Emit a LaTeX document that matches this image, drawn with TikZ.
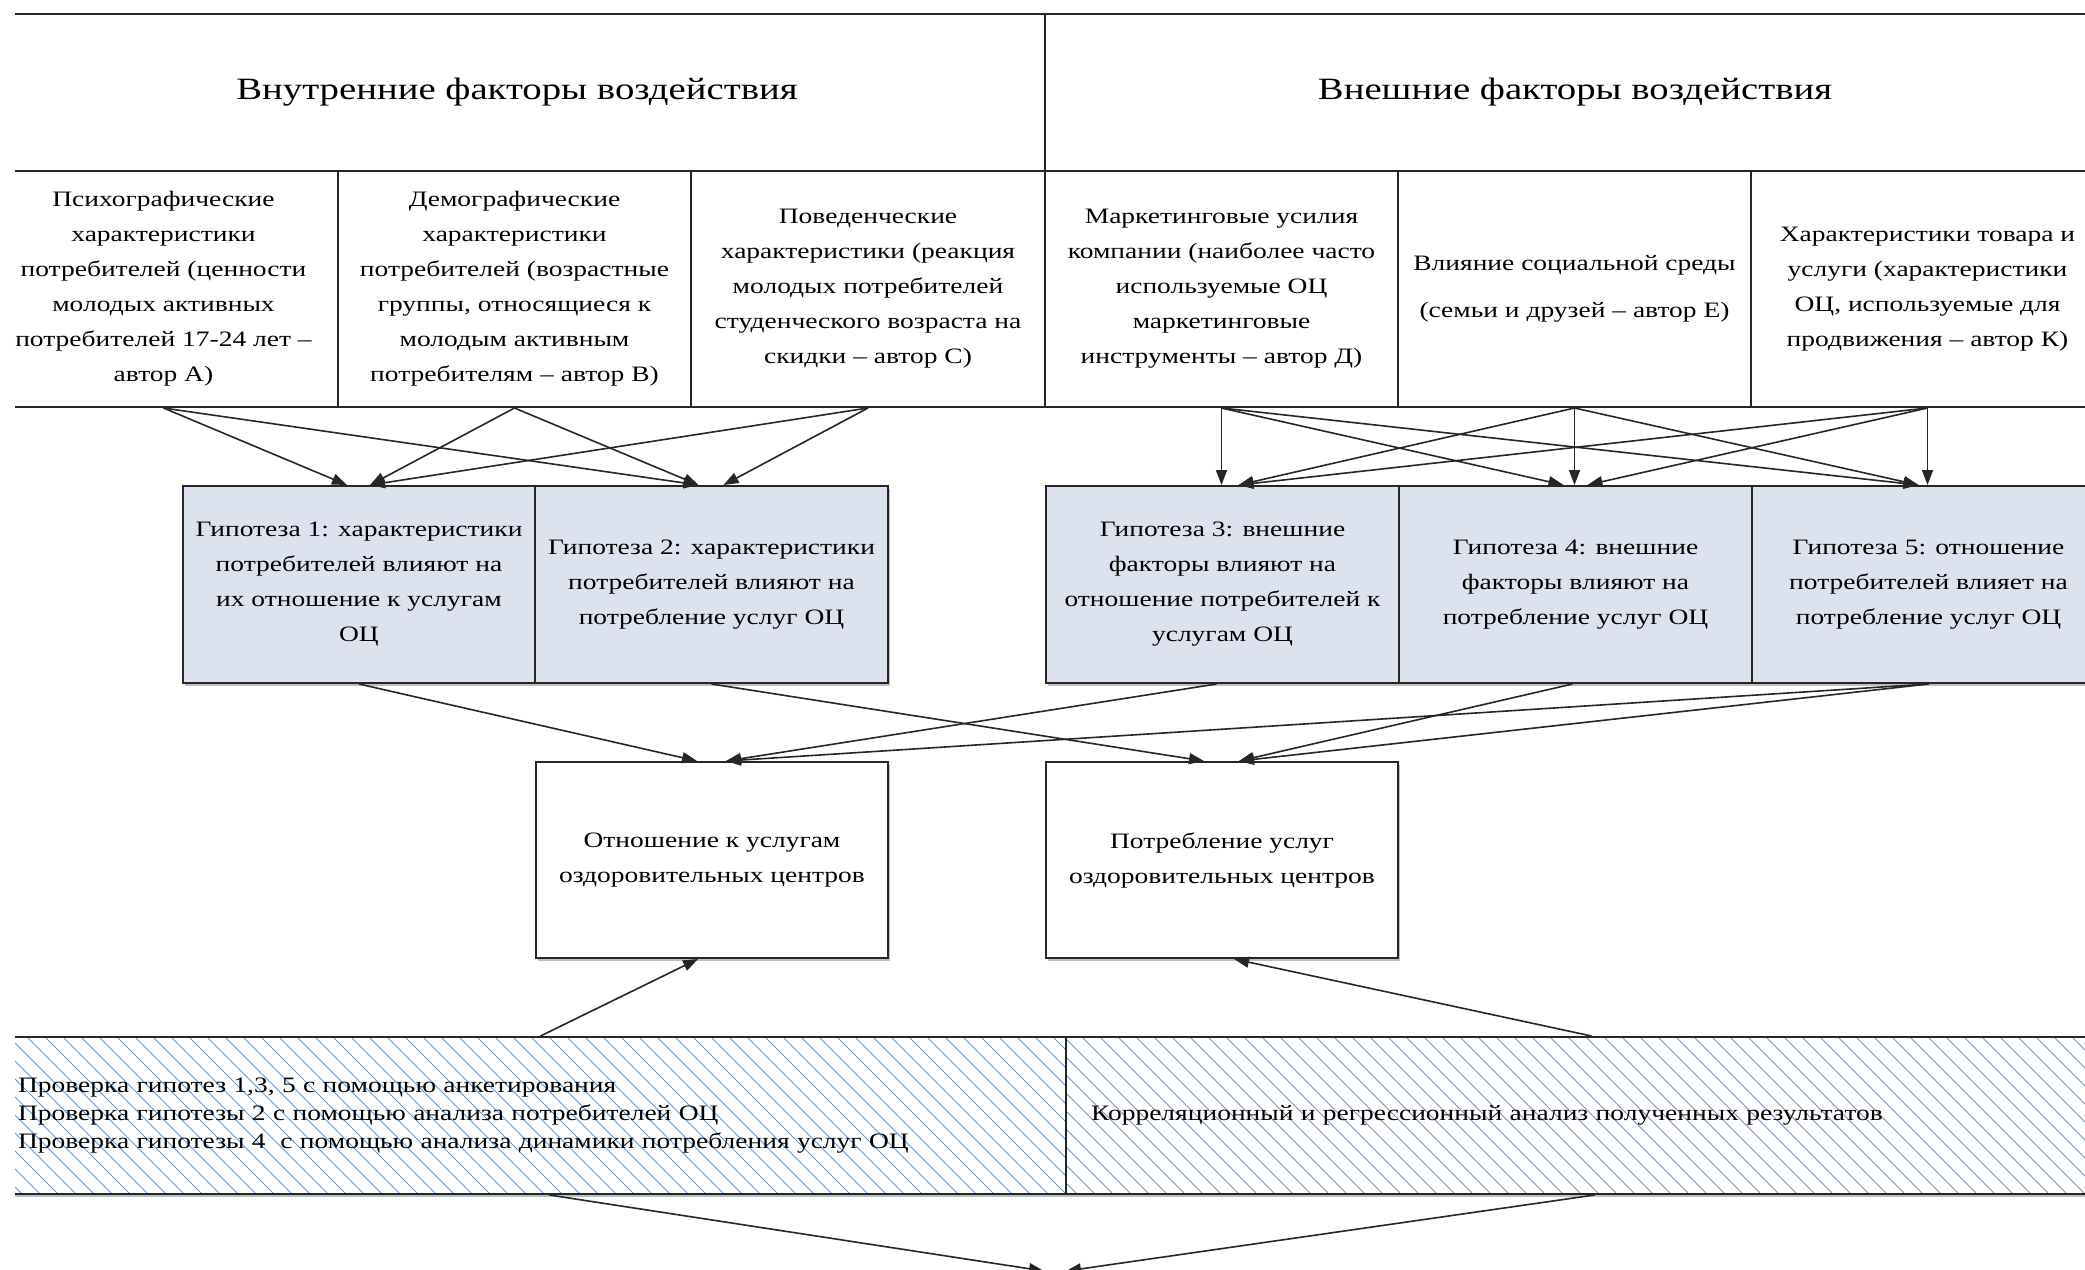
\documentclass[tikz,border=0pt]{standalone}
\usepackage{fontspec}
\setmainfont{Liberation Serif}[FakeStretch=1.25]
\usetikzlibrary{arrows.meta,calc,shadows}
\definecolor{linec}{HTML}{262626}
\definecolor{hypfill}{HTML}{DCE3EE}
\definecolor{hatchc}{HTML}{6E96CD}
\newcommand\bodyf{\fontsize{22pt}{35pt}\selectfont}
\newcommand\headf{\fontsize{31pt}{36pt}\selectfont}
\newcommand\bandf{\fontsize{22pt}{28pt}\selectfont}
\begin{document}
\begin{tikzpicture}[x=1pt,y=-1pt,
  cell/.style={draw=linec,line width=2pt,fill=white,inner sep=0pt,align=center,anchor=north west,font=\bodyf},
  shad/.style={drop shadow={shadow xshift=2pt,shadow yshift=-3pt,opacity=0.25,fill=black}},
  hyp/.style={cell,fill=hypfill,shad},
  outc/.style={cell,shad},
  band/.style={cell,shad,align=left,inner xsep=25pt,font=\bandf,
    path picture={\foreach \k in {0,...,140}{\draw[hatchc,line width=1pt]
      ([xshift=\k*18pt-200pt]path picture bounding box.north west) -- ++(157pt,-157pt);}}},
  arr/.style={draw=linec,line width=1.6pt,-{Triangle[length=15pt,width=11pt]}}]
\useasboundingbox (0,0) rectangle (2085,1269);
\begin{scope}
\clip (15,0) rectangle (2085,1269);
% header row
\node[cell,font=\headf,minimum width=1056pt,minimum height=157pt] (hl) at (-12,13) {Внутренние факторы воздействия};
\node[cell,font=\headf,minimum width=1060pt,minimum height=157pt] (hr) at (1044,13) {Внешние факторы воздействия};
% factor row
\node[cell,minimum width=349pt,minimum height=236pt] (c1) at (-12,170) {Психографические\\характеристики\\потребителей (ценности\\молодых активных\\потребителей 17-24 лет –\\автор А)};
\node[cell,minimum width=353pt,minimum height=236pt] (c2) at (337,170) {Демографические\\характеристики\\потребителей (возрастные\\группы, относящиеся к\\молодым активным\\потребителям – автор В)};
\node[cell,minimum width=354pt,minimum height=236pt] (c3) at (690,170) {Поведенческие\\характеристики (реакция\\молодых потребителей\\студенческого возраста на\\скидки – автор С)};
\node[cell,minimum width=353pt,minimum height=236pt] (c4) at (1044,170) {Маркетинговые усилия\\компании (наиболее часто\\используемые ОЦ\\маркетинговые\\инструменты – автор Д)};
\node[cell,minimum width=353pt,minimum height=236pt] (c5) at (1397,170) {Влияние социальной среды\\[12pt](семьи и друзей – автор Е)};
\node[cell,minimum width=353pt,minimum height=236pt] (c6) at (1750,170) {Характеристики товара и\\услуги (характеристики\\ОЦ, используемые для\\продвижения – автор К)};
% hypotheses
\node[hyp,minimum width=352pt,minimum height=197pt] (H1) at (182,485) {Гипотеза 1: характеристики\\потребителей влияют на\\их отношение к услугам\\ОЦ};
\node[hyp,minimum width=353pt,minimum height=197pt] (H2) at (534,485) {Гипотеза 2: характеристики\\потребителей влияют на\\потребление услуг ОЦ};
\node[hyp,minimum width=353pt,minimum height=197pt] (H3) at (1045,485) {Гипотеза 3: внешние\\факторы влияют на\\отношение потребителей к\\услугам ОЦ};
\node[hyp,minimum width=353pt,minimum height=197pt] (H4) at (1398,485) {Гипотеза 4: внешние\\факторы влияют на\\потребление услуг ОЦ};
\node[hyp,minimum width=353pt,minimum height=197pt] (H5) at (1751,485) {Гипотеза 5: отношение\\потребителей влияет на\\потребление услуг ОЦ};
% outcomes
\node[outc,minimum width=352pt,minimum height=196pt] (O1) at (535,761) {Отношение к услугам\\оздоровительных центров};
\node[outc,minimum width=352pt,minimum height=196pt] (O2) at (1045,761) {Потребление услуг\\оздоровительных центров};
% bands
\node[band,text width=1023pt,minimum height=157pt] (B1) at (-8,1036) {Проверка гипотез 1,3, 5 с помощью анкетирования\\Проверка гипотезы 2 с помощью анализа потребителей ОЦ\\Проверка гипотезы 4 \ с помощью анализа динамики потребления услуг ОЦ};
\node[band,text width=995pt,minimum height=157pt] (B2) at (1065,1036) {Корреляционный и регрессионный анализ полученных результатов};
\coordinate (bl) at (1044,1271);
\coordinate (br) at (1066,1271);
% arrows: factors -> hypotheses (internal)
\draw[arr] (c1.south) -- ([xshift=-12pt]H1.north);
\draw[arr] (c1.south) -- ([xshift=-13pt]H2.north);
\draw[arr] (c2.south) -- ([xshift=11pt]H1.north);
\draw[arr] (c2.south) -- ([xshift=-13pt]H2.north);
\draw[arr] (c3.south) -- ([xshift=11pt]H1.north);
\draw[arr] (c3.south) -- ([xshift=12pt]H2.north);
% external
\draw[arr] (c4.south) -- (c4.south |- H3.north);
\draw[arr] (c4.south) -- ([xshift=-12pt]H4.north);
\draw[arr] (c4.south) -- ([xshift=-10pt]H5.north);
\draw[arr] (c5.south) -- (c5.south |- H4.north);
\draw[arr] (c5.south) -- ([xshift=16pt]H3.north);
\draw[arr] (c5.south) -- ([xshift=-10pt]H5.north);
\draw[arr] (c6.south) -- (c6.south |- H5.north);
\draw[arr] (c6.south) -- ([xshift=16pt]H3.north);
\draw[arr] (c6.south) -- ([xshift=12pt]H4.north);
% hypotheses -> outcomes
\draw[arr] (H1.south) -- ([xshift=-15pt]O1.north);
\draw[arr] ([xshift=-6pt]H3.south) -- ([xshift=14pt]O1.north);
\draw[arr] (H5.south) -- ([xshift=14pt]O1.north);
\draw[arr] (H2.south) -- ([xshift=-18pt]O2.north);
\draw[arr] ([xshift=-3pt]H4.south) -- ([xshift=17pt]O2.north);
\draw[arr] (H5.south) -- ([xshift=17pt]O2.north);
% bands -> outcomes
\draw[arr] ([xshift=11pt]B1.north) -- ([xshift=-14pt]O1.south);
\draw[arr] ([xshift=3pt]B2.north) -- ([xshift=12pt]O2.south);
\draw[arr] ([xshift=20pt]B1.south) -- (bl);
\draw[arr] ([xshift=6pt]B2.south) -- (br);
\end{scope}
\end{tikzpicture}
\end{document}
